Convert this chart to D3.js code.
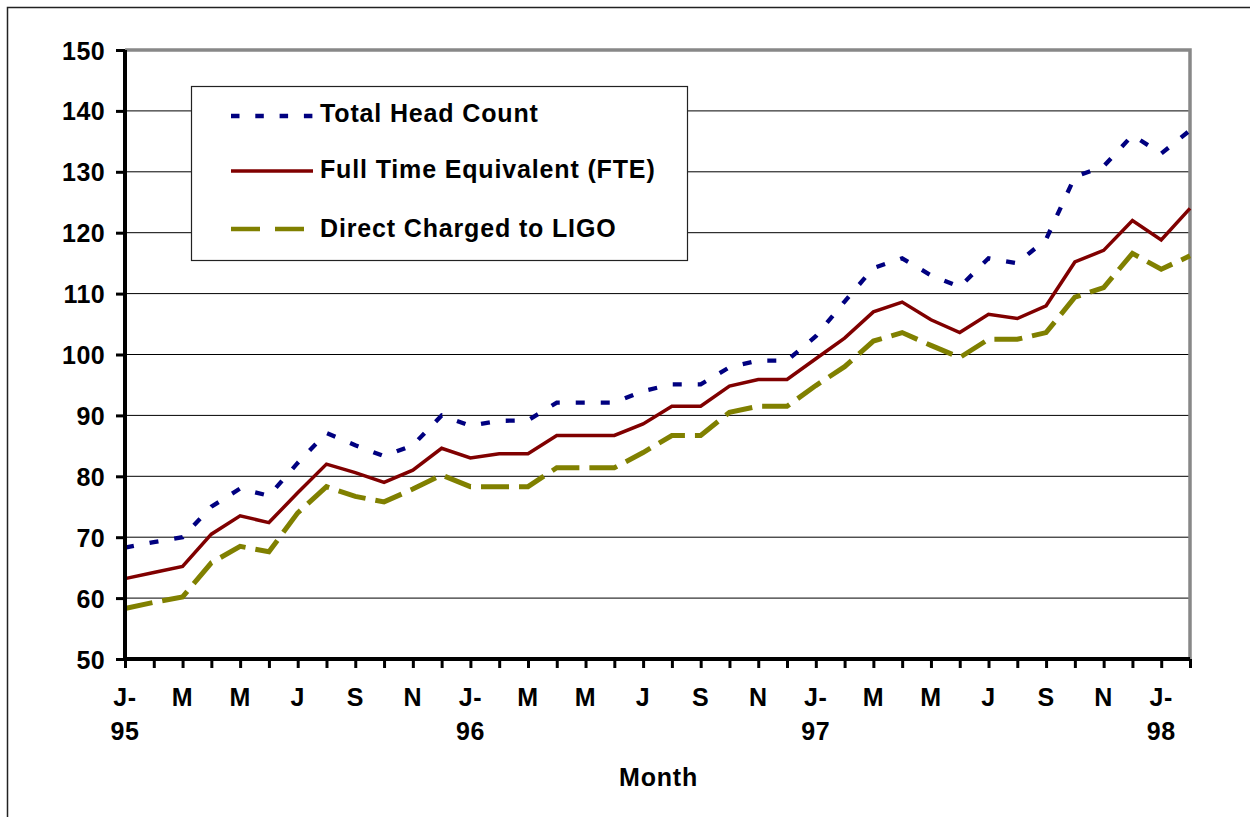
<!DOCTYPE html>
<html>
<head>
<meta charset="utf-8">
<script src="https://cdn.jsdelivr.net/npm/d3@7"></script>
<style>
  html, body { margin: 0; padding: 0; background: #fff; }
  svg { display: block; }
  text { font-family: "Liberation Sans", Arial, sans-serif; font-weight: bold; fill: #000; }
</style>
</head>
<body>
<svg id="chart" width="1250" height="817"></svg>
<script>
// ---- data ----
const months = [
  "Jan-95","Feb-95","Mar-95","Apr-95","May-95","Jun-95","Jul-95","Aug-95","Sep-95","Oct-95","Nov-95","Dec-95",
  "Jan-96","Feb-96","Mar-96","Apr-96","May-96","Jun-96","Jul-96","Aug-96","Sep-96","Oct-96","Nov-96","Dec-96",
  "Jan-97","Feb-97","Mar-97","Apr-97","May-97","Jun-97","Jul-97","Aug-97","Sep-97","Oct-97","Nov-97","Dec-97",
  "Jan-98","Feb-98"
];
const tickLabels = ["J-|95","M","M","J","S","N","J-|96","M","M","J","S","N","J-|97","M","M","J","S","N","J-|98"];
const totalHeadCount = [68.3, 69.2, 70, 75, 78, 76.8, 82.2, 87.1, 85.1, 83.3, 85.1, 90,
  88.3, 89.1, 89.2, 92.1, 92.1, 92.1, 94, 95.1, 95.1, 97.9, 99, 99,
  103, 108.7, 114.2, 115.8, 113, 111.1, 115.8, 115, 118.9, 129.2, 130.9, 136, 133, 136.8];
const fullTimeEquivalent = [63.2, 64.2, 65.2, 70.5, 73.5, 72.4, 77.3, 82, 80.6, 79, 81, 84.6,
  83, 83.7, 83.7, 86.7, 86.7, 86.7, 88.6, 91.5, 91.5, 94.8, 95.9, 95.9,
  99.3, 102.7, 107, 108.6, 105.7, 103.6, 106.6, 105.9, 108, 115.2, 117.1, 122, 118.8, 124];
const directCharged = [58.3, 59.3, 60.2, 65.8, 68.5, 67.6, 74, 78.3, 76.7, 75.8, 77.9, 80.2,
  78.3, 78.3, 78.3, 81.4, 81.4, 81.4, 83.9, 86.7, 86.7, 90.5, 91.5, 91.5,
  94.9, 98, 102.2, 103.6, 101.5, 99.5, 102.5, 102.5, 103.6, 109.4, 111, 116.6, 114, 116.2];
const yTicks = [50, 60, 70, 80, 90, 100, 110, 120, 130, 140, 150];
const seriesNames = ["Total Head Count", "Full Time Equivalent (FTE)", "Direct Charged to LIGO"];

// ---- layout ----
const svg = d3.select("#chart");
const L = 125, R = 1190, T = 50, B = 659;

const x = d3.scalePoint().domain(months).range([L, R]);
const y = d3.scaleLinear().domain([50, 150]).range([B, T]);

// outer frame
svg.append("rect").attr("x", 7.5).attr("y", 7.5).attr("width", 1400).attr("height", 1000)
  .attr("fill", "none").attr("stroke", "#222").attr("stroke-width", 1.5);

// gridlines
svg.append("g").selectAll("line").data(yTicks.filter(v => v > 50 && v < 150)).join("line")
  .attr("x1", L).attr("x2", R).attr("y1", d => y(d)).attr("y2", d => y(d))
  .attr("stroke", "#000").attr("stroke-width", 1);

// plot area top / right border (gray)
svg.append("path")
  .attr("d", `M${L},${y(150)}H${R}V${B}`)
  .attr("fill", "none").attr("stroke", "#888").attr("stroke-width", 3.5);

// series
const series = [
  { name: seriesNames[0], values: totalHeadCount, color: "#000080", width: 4.3, dash: "9,16" },
  { name: seriesNames[1], values: fullTimeEquivalent, color: "#800000", width: 3.5, dash: null },
  { name: seriesNames[2], values: directCharged, color: "#808000", width: 5, dash: "28,10" }
];
const line = d3.line().x((d, i) => x(months[i])).y(d => y(d));
series.forEach(s => {
  svg.append("path").datum(s.values)
    .attr("d", line).attr("fill", "none")
    .attr("stroke", s.color).attr("stroke-width", s.width)
    .attr("stroke-linejoin", "miter")
    .attr("stroke-dasharray", s.dash);
});

// y axis
const yAxis = d3.axisLeft(y).tickValues(yTicks).tickSize(9).tickPadding(12);
const gy = svg.append("g").attr("transform", `translate(${L},0)`).call(yAxis);
gy.select(".domain").attr("stroke", "#000").attr("stroke-width", 4).attr("d", `M0,${T}V${B}`);
gy.selectAll(".tick line").attr("stroke", "#000").attr("stroke-width", 3);
gy.selectAll(".tick text").style("font-size", "25px").style("font-family", "'Liberation Sans', Arial, sans-serif")
  .style("font-weight", "bold").style("letter-spacing", "0.4px").attr("fill", "#000").attr("x", -20).attr("dy", "0.36em");

// x axis
const xAxis = d3.axisBottom(x).tickSize(9).tickFormat(() => "");
const gx = svg.append("g").attr("transform", `translate(0,${B})`).call(xAxis);
gx.select(".domain").attr("stroke", "#000").attr("stroke-width", 4).attr("d", `M${L},0H${R}`);
gx.selectAll(".tick line").attr("stroke", "#000").attr("stroke-width", 3);

// x tick labels (every second month)
const labelData = tickLabels.map((t, k) => ({ month: months[k * 2], lines: t.split("|") }));
const xl = svg.append("g").selectAll("text").data(labelData).join("text")
  .attr("text-anchor", "middle").style("font-size", "25px").style("letter-spacing", "0.6px");
xl.each(function(d) {
  const t = d3.select(this);
  d.lines.forEach((ln, j) => {
    t.append("tspan").attr("x", x(d.month)).attr("y", 706 + j * 34).text(ln);
  });
});

// x axis title
svg.append("text").attr("x", (L + R) / 2 + 1).attr("y", 786).attr("text-anchor", "middle")
  .style("font-size", "25px").style("letter-spacing", "0.8px").text("Month");

// legend
const lg = svg.append("g");
lg.append("rect").attr("x", 191.5).attr("y", 86.5).attr("width", 496).attr("height", 174)
  .attr("fill", "#fff").attr("stroke", "#222").attr("stroke-width", 1.2);
const rowsY = [116, 171, 229];
const baseY = [121.5, 178, 236.5];
series.forEach((s, k) => {
  lg.append("line").attr("x1", 231).attr("x2", 313).attr("y1", rowsY[k]).attr("y2", rowsY[k])
    .attr("stroke", s.color).attr("stroke-width", s.width === 5 ? 4.5 : s.width)
    .attr("stroke-dasharray", k === 0 ? "8.5,15.8" : (k === 2 ? "29,15" : null));
  lg.append("text").attr("x", 320).attr("y", baseY[k]).style("font-size", "25px")
    .style("letter-spacing", "0.85px").text(s.name);
});
</script>
</body>
</html>
